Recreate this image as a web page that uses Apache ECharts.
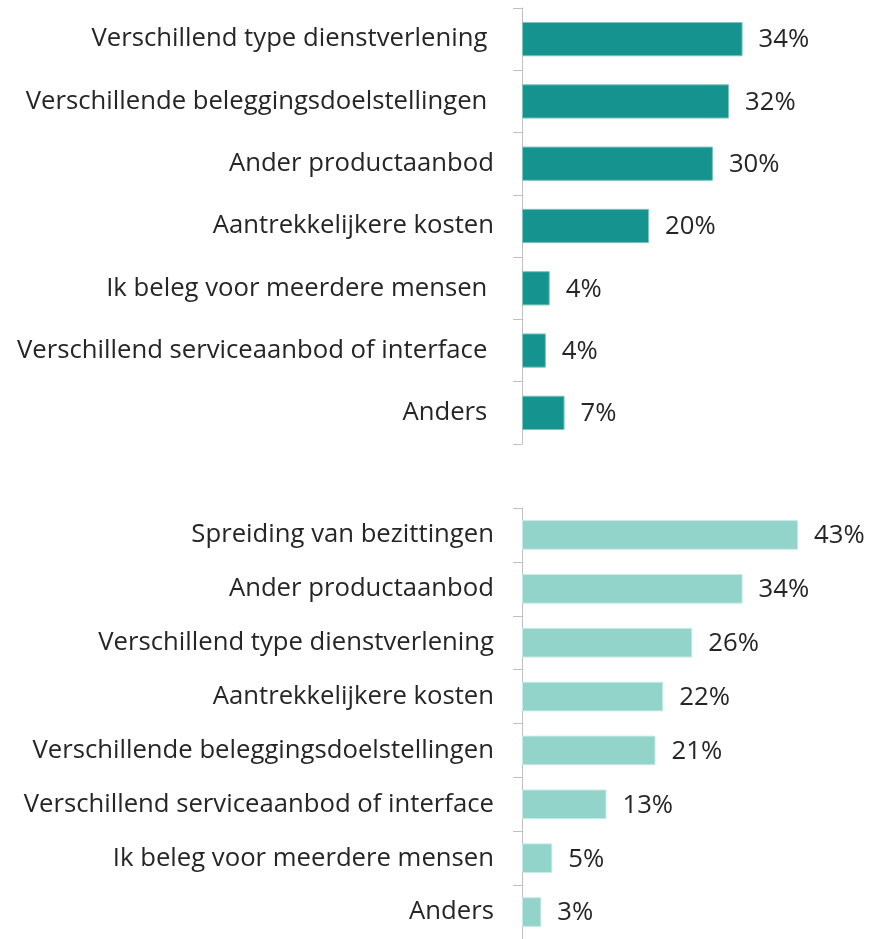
<!DOCTYPE html>
<html>
<head>
<meta charset="utf-8">
<script src="https://cdn.jsdelivr.net/npm/echarts@6/dist/echarts.min.js"></script>
<style>html,body{margin:0;padding:0;background:#fff}#c{width:869px;height:939px}</style>
</head>
<body>
<div id="c"></div>
<script>
const topCategories = ["Verschillend type dienstverlening ","Verschillende beleggingsdoelstellingen ","Ander productaanbod","Aantrekkelijkere kosten","Ik beleg voor meerdere mensen ","Verschillend serviceaanbod of interface ","Anders "];
const topValues = [34.2,32.1,29.6,19.7,4.3,3.7,6.6];
const bottomCategories = ["Spreiding van bezittingen","Ander productaanbod","Verschillend type dienstverlening","Aantrekkelijkere kosten","Verschillende beleggingsdoelstellingen","Verschillend serviceaanbod of interface","Ik beleg voor meerdere mensen","Anders"];
const bottomValues = [42.8,34.2,26.4,21.9,20.7,13.1,4.7,3.0];

const FONT = 'Open Sans';
const FS = 25.7;
const TXT = '#262626';

function yAx(idx, cats){
  return {
    type:'category', gridIndex:idx, data:cats, inverse:true,
    axisLine:{show:true, lineStyle:{color:'#bfbfbf', width:1}},
    axisTick:{show:true, length:9, lineStyle:{color:'#bfbfbf'}},
    axisLabel:{margin:28, color:TXT, fontFamily:FONT, fontSize:FS, padding:[0,0,5,0]}
  };
}
function xAx(idx){
  return {type:'value', gridIndex:idx, min:0, max:50, show:false, splitLine:{show:false}};
}
function ser(idx, vals, color, border){
  return {
    type:'bar', xAxisIndex:idx, yAxisIndex:idx, data:vals, barCategoryGap:'45%',
    itemStyle:{color:color, borderColor:border, borderWidth:1}, silent:true, animation:false,
    label:{show:true, position:'right', distance:16, offset:[0,1],
      formatter:p => Math.round(p.value) + '%', color:TXT, fontFamily:FONT, fontSize:FS}
  };
}
const chart = echarts.init(document.getElementById('c'));
chart.setOption({
  animation:false,
  grid:[
    {left:522, top:8, height:436, width:322.5},
    {left:522, top:508, height:436.8, width:322.5}
  ],
  xAxis:[xAx(0), xAx(1)],
  yAxis:[yAx(0, topCategories), yAx(1, bottomCategories)],
  series:[ser(0, topValues, '#15938f', '#7fc4c0'), ser(1, bottomValues, '#92d3ca', '#c8ebe5')]
});
</script>
</body>
</html>
